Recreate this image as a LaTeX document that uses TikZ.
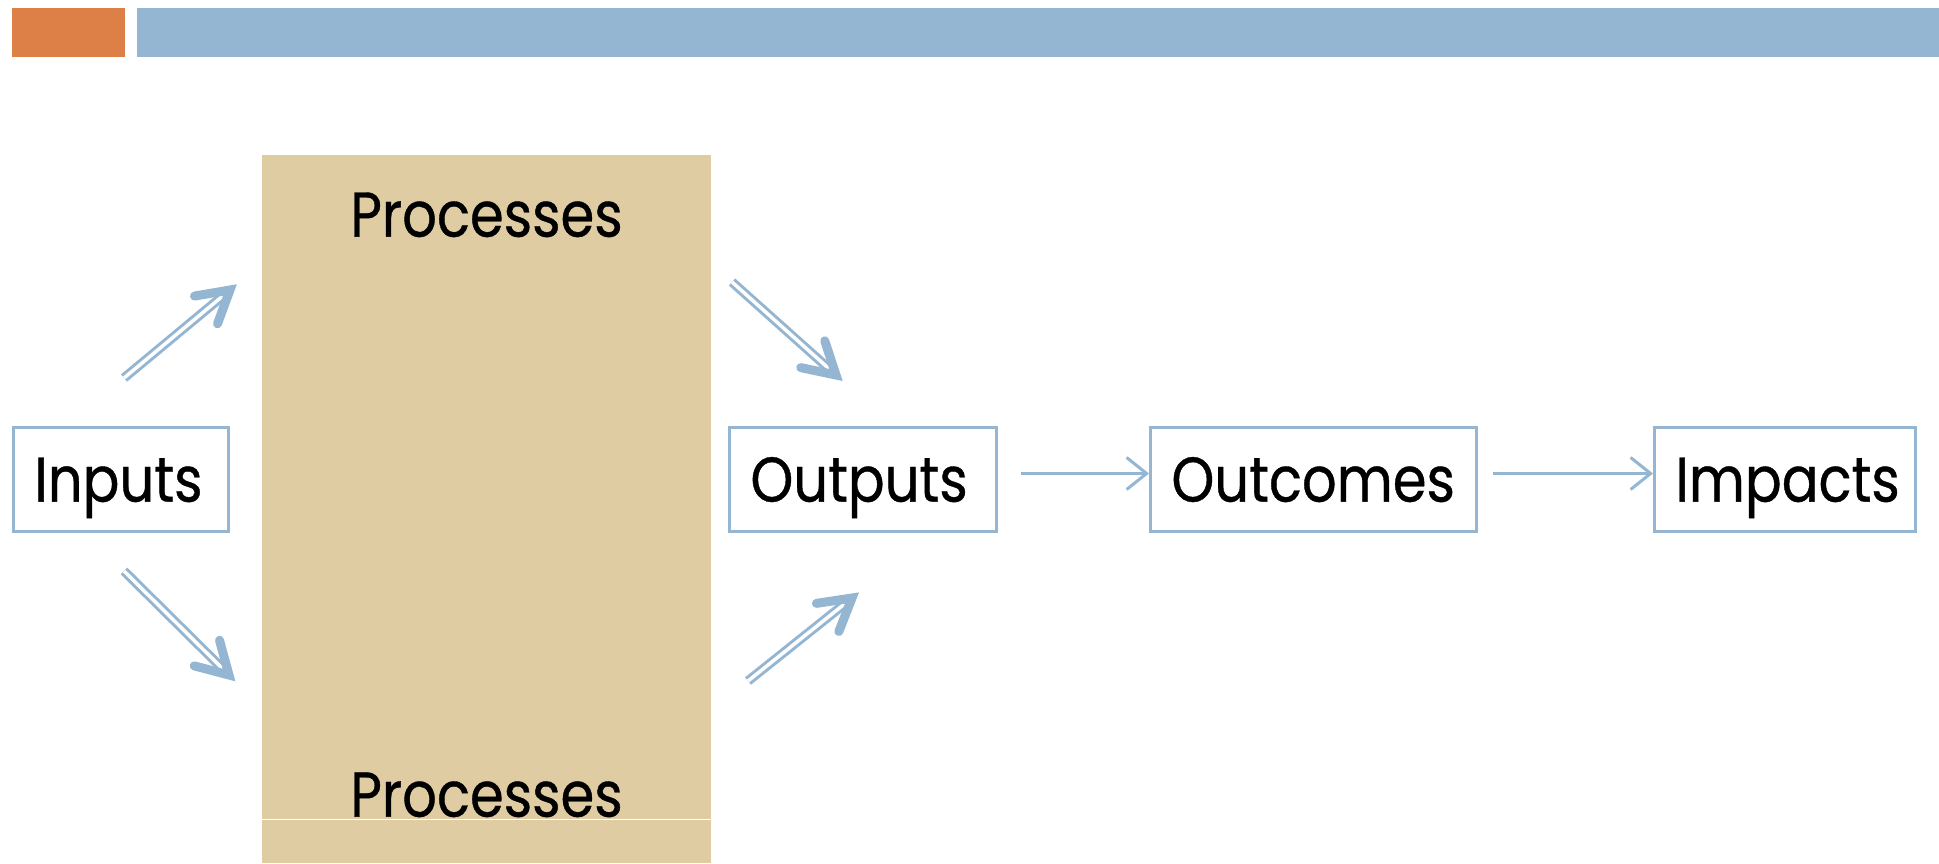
\documentclass[tikz,border=0pt]{standalone}
\usepackage{fontspec}
\setmainfont{Poppins}[FakeStretch=0.86,UprightFeatures={FakeBold=0.6}]
\usetikzlibrary{positioning,arrows.meta,calc}

\definecolor{barorange}{RGB}{221,128,71}
\definecolor{flowblue}{RGB}{148,182,210}
\definecolor{proctan}{RGB}{224,204,162}

\begin{document}
\begin{tikzpicture}[
  x=1mm, y=1mm,
  stage/.style={
    rectangle, draw=flowblue, line width=0.3mm,
    align=left, font=\fontsize{18}{20}\selectfont,
    minimum height=10.4mm, inner xsep=2.1mm,
    text height=12.6pt, text depth=0pt
  },
  procbox/.style={
    rectangle, fill=proctan, inner sep=0pt,
    minimum width=44.9mm, minimum height=70.8mm
  },
  proclabel/.style={
    font=\fontsize{18}{20}\selectfont,
    text height=12.6pt, text depth=0pt, inner sep=0pt
  },
  flow/.style={-{Straight Barb[length=2mm,width=3.2mm]}, draw=flowblue, line width=0.3mm},
  dblline/.style={draw=flowblue, line width=0.3mm, double=white, double distance=0.35mm},
  dblhead/.style={draw=flowblue, line width=0.9mm, line cap=round, line join=miter}
]

\useasboundingbox (0,0) rectangle (193.9,86.3);

% =====================================================
% HEADER BARS
% =====================================================

\fill[barorange] (1.2,80.6) rectangle (12.5,85.5);
\fill[flowblue] (13.7,80.6) rectangle (193.9,85.5);

% =====================================================
% PROCESSES
% =====================================================

\node[procbox] (proc) at (48.65,35.4) {};
\draw[white, line width=0.1mm] ([yshift=4.4mm]proc.south west) -- ([yshift=4.4mm]proc.south east);

\node[proclabel] (proctop) at (48.65,64.85) {Processes};
\node[proclabel] (procbottom) at (48.65,6.85) {Processes};

% =====================================================
% STAGES
% =====================================================

\node[stage, text width=17.3mm] (inputs) at (12.1,38.35) {Inputs};
\node[stage, text width=22.5mm, right=49.8mm of inputs] (outputs) {Outputs};
\node[stage, text width=28.4mm, right=15.1mm of outputs] (outcomes) {Outcomes};
\node[stage, text width=21.9mm, right=17.5mm of outcomes] (impacts) {Impacts};

\draw[flow] ([xshift=2.3mm,yshift=0.6mm]outputs.east) -- ([yshift=0.6mm]outcomes.west);
\draw[flow] ([xshift=1.5mm,yshift=0.6mm]outcomes.east) -- ([yshift=0.6mm]impacts.west);

% =====================================================
% INTO AND OUT OF PROCESSES
% =====================================================

\coordinate (inup) at (12.4,48.5);
\coordinate (inuptip) at (23.0,57.3);
\coordinate (indown) at (12.4,29.2);
\coordinate (indowntip) at (22.9,18.8);
\coordinate (outup) at (73.2,58.1);
\coordinate (outuptip) at (83.6,48.8);
\coordinate (outdown) at (74.8,18.2);
\coordinate (outdowntip) at (85.2,26.5);

\draw[dblline] (inup) -- (inuptip);
\draw[dblhead] ($(inuptip)!3.6mm!30:(inup)$) -- (inuptip) -- ($(inuptip)!3.6mm!-30:(inup)$);

\draw[dblline] (indown) -- (indowntip);
\draw[dblhead] ($(indowntip)!3.6mm!30:(indown)$) -- (indowntip) -- ($(indowntip)!3.6mm!-30:(indown)$);

\draw[dblline] (outup) -- (outuptip);
\draw[dblhead] ($(outuptip)!3.6mm!30:(outup)$) -- (outuptip) -- ($(outuptip)!3.6mm!-30:(outup)$);

\draw[dblline] (outdown) -- (outdowntip);
\draw[dblhead] ($(outdowntip)!3.6mm!30:(outdown)$) -- (outdowntip) -- ($(outdowntip)!3.6mm!-30:(outdown)$);

\end{tikzpicture}
\end{document}
